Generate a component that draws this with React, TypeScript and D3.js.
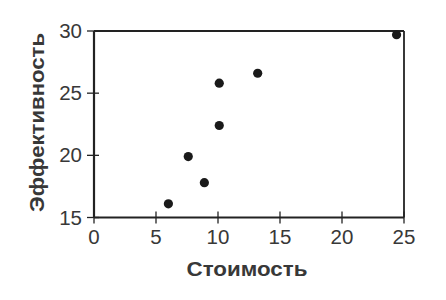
import React from "react";
import * as d3 from "d3";

const cost = [6.0, 7.6, 8.9, 10.1, 10.1, 13.2, 24.4];
const efficiency = [16.1, 19.9, 17.8, 22.4, 25.8, 26.6, 29.7];
const xTicks = [0, 5, 10, 15, 20, 25];
const yTicks = [15, 20, 25, 30];
const xTitle = "Стоимость";
const yTitle = "Эффективность";

export default function App() {
  const x = d3.scaleLinear().domain([0, 25]).range([94, 404]);
  const y = d3.scaleLinear().domain([15, 30]).range([217.5, 31]);
  const ink = "#222";
  const textCol = "#383838";
  const font = "'Liberation Sans', Arial, sans-serif";
  return (
    <svg
      width={446}
      height={300}
      style={{ position: "absolute", left: 0, top: 0, background: "#fff" }}
      fontFamily={font}
    >
      <rect x={0} y={0} width={446} height={300} fill="#fff" />
      {/* frame top & right */}
      <line x1={x(0)} x2={x(25)} y1={y(30)} y2={y(30)} stroke={ink} strokeWidth={1.8} />
      <line x1={x(25)} x2={x(25)} y1={y(30)} y2={y(15)} stroke={ink} strokeWidth={1.8} />
      {/* axes */}
      <line x1={x(0)} x2={x(25)} y1={y(15)} y2={y(15)} stroke={ink} strokeWidth={2.2} />
      <line x1={x(0)} x2={x(0)} y1={y(30)} y2={y(15)} stroke={ink} strokeWidth={2.2} />
      {xTicks.map((t) => (
        <g key={"x" + t}>
          <line x1={x(t)} x2={x(t)} y1={y(15) - 6} y2={y(15) + 6} stroke={ink} strokeWidth={1.3} />
          <text x={x(t)} y={244} textAnchor="middle" fontSize={20.5} fill={textCol}>
            {t}
          </text>
        </g>
      ))}
      {yTicks.map((t) => (
        <g key={"y" + t}>
          <line x1={x(0) - 7} x2={x(0) + 5} y1={y(t)} y2={y(t)} stroke={ink} strokeWidth={1.3} />
          <text x={82} y={y(t) + 7} textAnchor="end" fontSize={20.5} fill={textCol}>
            {t}
          </text>
        </g>
      ))}
      {cost.map((c, i) => (
        <circle key={i} cx={x(c)} cy={y(efficiency[i])} r={4.6} fill="#1a1a1a" />
      ))}
      <text
        x={247}
        y={276}
        textAnchor="middle"
        fontSize={20}
        fontWeight="bold"
        fill={textCol}
        textLength={121}
        lengthAdjust="spacingAndGlyphs"
      >
        {xTitle}
      </text>
      <text
        transform={`translate(44, 122.5) rotate(-90)`}
        textAnchor="middle"
        fontSize={20}
        fontWeight="bold"
        fill={textCol}
        textLength={179}
        lengthAdjust="spacingAndGlyphs"
      >
        {yTitle}
      </text>
    </svg>
  );
}
